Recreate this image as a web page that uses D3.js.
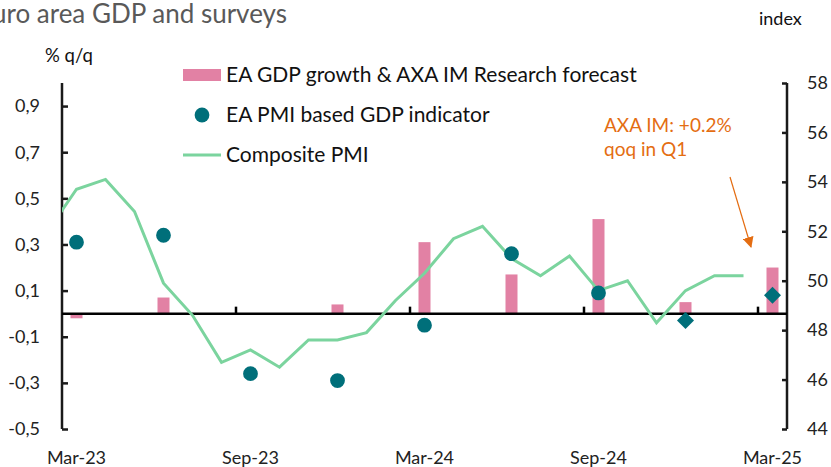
<!DOCTYPE html>
<html>
<head>
<meta charset="utf-8">
<script src="https://cdn.jsdelivr.net/npm/d3@7"></script>
<style>
  body { margin: 0; background: #fff; }
  svg { display: block; font-family: Lato, "Open Sans", sans-serif; }
</style>
</head>
<body>
<svg id="canvas" width="831" height="467"></svg>
<script>
// months on the category axis; Feb-23 sits left of the plot and is clipped
var months = ["Feb-23", "Mar-23", "Apr-23", "May-23", "Jun-23", "Jul-23", "Aug-23", "Sep-23",
  "Oct-23", "Nov-23", "Dec-23", "Jan-24", "Feb-24", "Mar-24", "Apr-24", "May-24", "Jun-24",
  "Jul-24", "Aug-24", "Sep-24", "Oct-24", "Nov-24", "Dec-24", "Jan-25", "Feb-25", "Mar-25"];
var tickMonths = ["Mar-23", "Sep-23", "Mar-24", "Sep-24", "Mar-25"];

var quarters = ["Mar-23", "Jun-23", "Sep-23", "Dec-23", "Mar-24", "Jun-24", "Sep-24", "Dec-24", "Mar-25"];
var gdpGrowth = [-0.02, 0.07, 0.0, 0.04, 0.31, 0.17, 0.41, 0.05, 0.20];
var pmiGdp = [0.31, 0.34, -0.26, -0.29, -0.05, 0.26, 0.09, -0.03, 0.08];
var pmiGdpShape = ["circle", "circle", "circle", "circle", "circle", "circle", "circle", "diamond", "diamond"];

var pmiMonths = months.slice(0, 25);
var compositePmi = [52.0, 53.7, 54.1, 52.8, 49.9, 48.6, 46.7, 47.2, 46.5, 47.6, 47.6, 47.9,
  49.2, 50.3, 51.7, 52.2, 50.9, 50.2, 51.0, 49.6, 50.0, 48.3, 49.6, 50.2, 50.2];

var leftTicks = [-0.5, -0.3, -0.1, 0.1, 0.3, 0.5, 0.7, 0.9];
var rightTicks = [44, 46, 48, 50, 52, 54, 56, 58];

var svg = d3.select("#canvas"),
    plotLeft = 62,
    plotRight = 787,
    plotTop = 83,
    plotBottom = 429;

var colors = {bar: "#E281A4", dot: "#006F7A", line: "#7BD49E", note: "#E46D12", axis: "#1a1a1a"};

var step = (plotRight - plotLeft) / (months.length - 1);
var x = d3.scaleBand()
  .domain(months)
  .range([plotLeft - step, plotRight])
  .padding(0);

var yLeft = d3.scaleLinear().domain([-0.5, 1.0]).range([plotBottom, plotTop]);
var yRight = d3.scaleLinear().domain([44, 58]).range([plotBottom, plotTop]);

var locale = d3.formatLocale({decimal: ",", thousands: ".", grouping: [3], currency: ["", "€"], minus: "-"});
var fmt = locale.format(".1f");

function cx(m) { return x(m) + x.bandwidth() / 2; }

svg.append("defs").append("clipPath")
  .attr("id", "plot-clip")
  .append("rect")
  .attr("x", plotLeft).attr("y", 0)
  .attr("width", plotRight - plotLeft).attr("height", 467);

svg.select("defs").append("marker")
  .attr("id", "arrow")
  .attr("viewBox", "0 0 10 10")
  .attr("refX", 9).attr("refY", 5)
  .attr("markerWidth", 11).attr("markerHeight", 11)
  .attr("markerUnits", "userSpaceOnUse")
  .attr("orient", "auto")
  .append("path")
  .attr("d", "M0,0 L10,5 L0,10 z")
  .attr("fill", colors.note);

// title and axis titles
svg.append("text")
  .attr("x", 287).attr("y", 23)
  .attr("text-anchor", "end")
  .attr("font-size", 26)
  .attr("fill", "#595959")
  .text("Euro area GDP and surveys");

svg.append("text")
  .attr("x", 45).attr("y", 62)
  .attr("font-size", 18.5)
  .attr("fill", "#111")
  .text("% q/q");

svg.append("text")
  .attr("x", 759).attr("y", 25)
  .attr("font-size", 18)
  .attr("fill", "#111")
  .text("index");

// bars
svg.append("g")
  .selectAll("rect")
  .data(quarters)
  .enter()
  .append("rect")
  .attr("x", function(d) { return cx(d) - 6; })
  .attr("width", 12)
  .attr("y", function(d, i) { return yLeft(Math.max(0, gdpGrowth[i])); })
  .attr("height", function(d, i) { return Math.abs(yLeft(gdpGrowth[i]) - yLeft(0)); })
  .attr("fill", colors.bar);

// left axis
var leftAxis = svg.append("g")
  .attr("transform", "translate(" + plotLeft + ",0)")
  .call(d3.axisRight(yLeft).tickValues(leftTicks).tickSize(6).tickFormat(""));
leftAxis.select(".domain").attr("d", "M0," + plotTop + "V" + plotBottom);
leftAxis.selectAll("line, path").attr("stroke", colors.axis).attr("stroke-width", 2.5);

svg.append("g")
  .selectAll("text")
  .data(leftTicks)
  .enter()
  .append("text")
  .attr("x", 40)
  .attr("y", function(d) { return yLeft(d); })
  .attr("dy", "0.35em")
  .attr("text-anchor", "end")
  .attr("font-size", 18)
  .attr("fill", "#222")
  .text(fmt);

// right axis
var rightAxis = svg.append("g")
  .attr("transform", "translate(" + plotRight + ",0)")
  .call(d3.axisLeft(yRight).tickValues(rightTicks).tickSize(5).tickFormat(""));
rightAxis.select(".domain").attr("d", "M0," + plotTop + "V" + plotBottom);
rightAxis.selectAll("line, path").attr("stroke", colors.axis).attr("stroke-width", 2.5);

svg.append("g")
  .selectAll("text")
  .data(rightTicks)
  .enter()
  .append("text")
  .attr("x", 807)
  .attr("y", function(d) { return yRight(d); })
  .attr("dy", "0.35em")
  .attr("font-size", 18)
  .attr("fill", "#222")
  .text(function(d) { return d; });

// category axis on the zero line
svg.append("line")
  .attr("x1", plotLeft).attr("x2", plotRight)
  .attr("y1", yLeft(0)).attr("y2", yLeft(0))
  .attr("stroke", "#000").attr("stroke-width", 2.5);

svg.append("g")
  .selectAll("line")
  .data(tickMonths.slice(1))
  .enter()
  .append("line")
  .attr("x1", function(d) { return x(d); })
  .attr("x2", function(d) { return x(d); })
  .attr("y1", yLeft(0))
  .attr("y2", yLeft(0) - 7)
  .attr("stroke", "#000").attr("stroke-width", 2.5);

svg.append("g")
  .selectAll("text")
  .data(tickMonths)
  .enter()
  .append("text")
  .attr("x", cx)
  .attr("y", 464)
  .attr("text-anchor", "middle")
  .attr("font-size", 18)
  .attr("fill", "#222")
  .text(function(d) { return d; });

// composite PMI line
var line = d3.line()
  .x(function(d, i) { return cx(pmiMonths[i]); })
  .y(function(d) { return yRight(d); });

svg.append("path")
  .datum(compositePmi)
  .attr("clip-path", "url(#plot-clip)")
  .attr("d", line)
  .attr("fill", "none")
  .attr("stroke", colors.line)
  .attr("stroke-width", 3)
  .attr("stroke-linejoin", "miter");

// PMI based GDP indicator
var dots = svg.append("g")
  .selectAll("path")
  .data(quarters)
  .enter()
  .append("path")
  .attr("transform", function(d, i) { return "translate(" + cx(d) + "," + yLeft(pmiGdp[i]) + ")"; })
  .attr("d", function(d, i) {
    if (pmiGdpShape[i] === "diamond") return "M0,-8.5 L8.5,0 L0,8.5 L-8.5,0 Z";
    return d3.symbol().type(d3.symbolCircle).size(Math.PI * 7.4 * 7.4)();
  })
  .attr("fill", colors.dot);

// legend
var legend = svg.append("g").attr("font-size", 21).attr("fill", "#111");
legend.append("rect")
  .attr("x", 183).attr("y", 69).attr("width", 38).attr("height", 12)
  .attr("fill", colors.bar);
legend.append("text").attr("x", 226).attr("y", 82).text("EA GDP growth & AXA IM Research forecast");
legend.append("circle")
  .attr("cx", 202).attr("cy", 115).attr("r", 7.4)
  .attr("fill", colors.dot);
legend.append("text").attr("x", 226).attr("y", 122).text("EA PMI based GDP indicator");
legend.append("line")
  .attr("x1", 183).attr("x2", 221).attr("y1", 155).attr("y2", 155)
  .attr("stroke", colors.line).attr("stroke-width", 3);
legend.append("text").attr("x", 226).attr("y", 162).text("Composite PMI");

// annotation
var note = svg.append("g").attr("font-size", 19).attr("fill", colors.note);
note.append("text").attr("x", 604).attr("y", 132).text("AXA IM: +0.2%");
note.append("text").attr("x", 604).attr("y", 156).text("qoq in Q1");
svg.append("line")
  .attr("x1", 730).attr("y1", 177)
  .attr("x2", 751).attr("y2", 247)
  .attr("stroke", colors.note)
  .attr("stroke-width", 1.2)
  .attr("marker-end", "url(#arrow)");
</script>
</body>
</html>
